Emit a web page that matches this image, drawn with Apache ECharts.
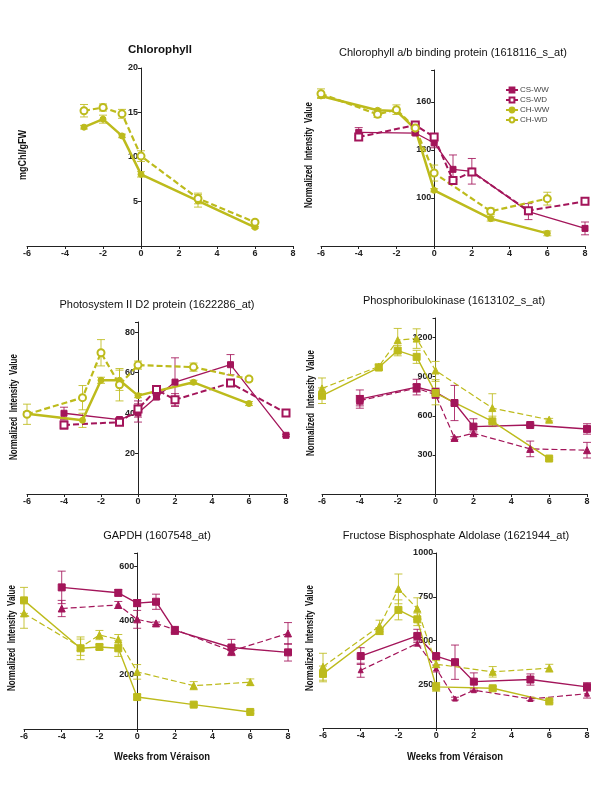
<!DOCTYPE html>
<html><head><meta charset="utf-8">
<script src="https://cdn.jsdelivr.net/npm/echarts@6/dist/echarts.min.js"></script>
<style>html,body{margin:0;padding:0;background:#fff}#c{width:600px;height:800px}</style>
</head><body><div id="c"></div>
<script>
// ---------- DATA ----------
const seriesNames = ['CS-WW', 'CS-WD', 'CH-WW', 'CH-WD'];
const panelTitles = [
  'Chlorophyll',
  'Chlorophyll a/b binding protein (1618116_s_at)',
  'Photosystem II D2 protein (1622286_at)',
  'Phosphoribulokinase (1613102_s_at)',
  'GAPDH (1607548_at)',
  'Fructose Bisphosphate Aldolase (1621944_at)'
];
const yAxisNames = ['mgChl/gFW', 'Normalized  Intensity  Value', 'Normalized  Intensity  Value',
  'Normalized  Intensity  Value', 'Normalized  Intensity  Value', 'Normalized  Intensity  Value'];
const xAxisName = 'Weeks from Véraison';
const xTickLabels = [-6, -4, -2, 0, 2, 4, 6, 8];
const yTickLabels = [[5, 10, 15, 20], [100, 130, 160], [20, 40, 60, 80], [300, 600, 900, 1200], [200, 400, 600], [250, 500, 750, 1000]];

const weeksChl = [-3, -2, -1, 0, 3, 6];
const weeksCH = [-6, -3, -2, -1, 0, 3, 6];
const weeksCS = [-4, -1, 0, 1, 2, 5, 8];

// Chlorophyll
const chl_CHWW = [13.35, 14.25, 12.37, 8.05, 5.07, 2.1];
const chl_CHWW_err = [0.2, 0.45, 0.2, 0.3, 0.7, 0.1];
const chl_CHWD = [15.2, 15.56, 14.85, 10.1, 5.34, 2.67];
const chl_CHWD_err = [0.7, 0.4, 0.5, 0.6, 0.6, 0.15];

// Chlorophyll a/b binding protein
const cab_CHWW = [163.8, 154.8, 154.4, 143.1, 104.8, 87.1, 77.9];
const cab_CHWW_err = [1, 1, 1, 4, 1, 1.5, 1.5];
const cab_CHWD = [165.2, 152.3, 155.2, 143.8, 115.6, 91.7, 99.6];
const cab_CHWD_err = [3, 2, 3, 3, 5, 2, 4];
const cab_CSWW = [141, 140.6, 134.4, 117.9, 116.7, 91.5, 81];
const cab_CSWW_err = [3, 1, 3, 9, 8, 5, 4];
const cab_CSWD = [138.1, 145.6, 138.1, 111, 116.3, 92.1, 97.9];
const cab_CSWD_err = [1, 1, 2, 2, 2, 1, 2];

// Photosystem II D2 protein
const ps_CHWW = [39.7, 36.4, 56.2, 56.2, 48.6, 55.2, 44.7];
const ps_CHWW_err = [1, 3.5, 1.5, 5, 1, 1, 1];
const ps_CHWD = [39.4, 47.6, 69.8, 54, 63.7, 62.7, 56.8];
const ps_CHWD_err = [5, 6, 6.5, 8, 2, 2, 1];
const ps_CSWW = [39.9, 36.8, 40.05, 47.9, 55.3, 63.9, 29];
const ps_CSWW_err = [3, 1, 4.5, 1, 12, 5, 0.5];
const ps_CSWD = [34.1, 35.5, 42, 51.6, 46.6, 54.8, 40.05];
const ps_CSWD_err = [2, 1, 4, 1.5, 3, 1, 1];

// Phosphoribulokinase
const prk_CHWW = [754, 970, 1100, 1052, 774, 557, 272];
const prk_CHWW_err = [60, 20, 40, 50, 90, 40, 10];
const prk_CHWD = [810, 978, 1180, 1192, 947, 659, 570];
const prk_CHWD_err = [80, 20, 90, 75, 70, 110, 10];
const prk_CSWW = [728, 820, 782, 698, 517, 529, 499];
const prk_CSWW_err = [70, 60, 30, 135, 60, 10, 40];
const prk_CSWD = [716, 812, 761, 430, 466, 346, 336];
const prk_CSWD_err = [40, 30, 20, 10, 10, 60, 60];

// GAPDH
const gap_CHWW = [475, 298, 303, 298, 118, 90, 63];
const gap_CHWW_err = [48, 42, 10, 30, 10, 5, 5];
const gap_CHWD = [427, 302, 347, 331, 211, 160, 173];
const gap_CHWD_err = [55, 30, 17, 18, 27, 15, 12];
const gap_CSWW = [523, 503, 465, 470, 364, 301, 283];
const gap_CSWW_err = [60, 12, 13, 28, 15, 30, 32];
const gap_CSWD = [445, 458, 405, 390, 367, 288, 353];
const gap_CSWD_err = [30, 13, 33, 5, 10, 15, 40];

// Fructose Bisphosphate Aldolase
const fba_CHWW = [309, 554, 675, 621, 235, 227, 152];
const fba_CHWW_err = [45, 20, 57, 36, 25, 10, 8];
const fba_CHWD = [350, 583, 795, 682, 365, 321, 342];
const fba_CHWD_err = [77, 33, 85, 62, 20, 30, 22];
const fba_CSWW = [411, 526, 411, 376, 265, 277, 235];
const fba_CSWW_err = [48, 38, 15, 98, 50, 32, 24];
const fba_CSWD = [330, 483, 340, 168, 216, 166, 196];
const fba_CSWD_err = [40, 15, 20, 8, 8, 10, 25];

// ---------- LAYOUT / STYLE ----------
const CH = '#bdbb1c', CS = '#a3155a';
const FONT = "'Liberation Sans', Arial, sans-serif";
const grids = [
  {left: 27, top: 68, width: 266, height: 178},
  {left: 321, top: 70, width: 264, height: 176},
  {left: 27, top: 322, width: 259, height: 172},
  {left: 322, top: 318, width: 265, height: 176},
  {left: 24, top: 553, width: 264, height: 176},
  {left: 323, top: 553, width: 264, height: 175}
];
const yRanges = [[0, 20, 5], [70, 180, 30], [0, 85, 20], [0, 1350, 300], [0, 650, 200], [0, 1000, 250]];

const xAxes = grids.map((g, i) => ({
  gridIndex: i, type: 'value', min: -6, max: 8, interval: 2,
  axisLine: {onZero: false, lineStyle: {color: '#222', width: 1}},
  axisTick: {length: 3, lineStyle: {color: '#222'}},
  splitLine: {show: false},
  axisLabel: {margin: 3, fontSize: 9, fontWeight: 'bold', color: '#222', fontFamily: FONT,
    formatter: v => xTickLabels.indexOf(v) >= 0 ? String(v) : ''}
}));
const yAxes = grids.map((g, i) => ({
  gridIndex: i, type: 'value', min: yRanges[i][0], max: yRanges[i][1], interval: yRanges[i][2],
  position: 'left', offset: -(g.width * 6 / 14),
  axisLine: {show: true, onZero: false, lineStyle: {color: '#222', width: 1}},
  axisTick: {show: true, length: 3, lineStyle: {color: '#222'}},
  splitLine: {show: false},
  axisLabel: {margin: 3, fontSize: 9, fontWeight: 'bold', color: '#222', fontFamily: FONT,
    formatter: v => yTickLabels[i].indexOf(v) >= 0 ? String(v) : ''}
}));

function lineS(idx, name, xs, ys, o) {
  return {
    type: 'line', name: name, xAxisIndex: idx, yAxisIndex: idx,
    data: xs.map((x, k) => [x, ys[k]]),
    symbol: o.symbol, symbolSize: o.size || 6,
    lineStyle: {color: o.color, width: o.width, type: o.dash ? [6, 3] : 'solid'},
    itemStyle: {color: o.color, borderColor: o.color, borderWidth: o.bw || 1},
    emphasis: {disabled: true}, z: 3
  };
}
function errS(idx, xs, ys, es, color) {
  return {
    type: 'custom', name: 'err', xAxisIndex: idx, yAxisIndex: idx, z: 2,
    data: xs.map((x, k) => [x, ys[k] - es[k], ys[k] + es[k]]),
    renderItem: function (params, api) {
      const lo = api.coord([api.value(0), api.value(1)]);
      const hi = api.coord([api.value(0), api.value(2)]);
      const st = {stroke: color, lineWidth: 1, opacity: 0.85};
      return {type: 'group', children: [
        {type: 'line', shape: {x1: lo[0], y1: lo[1], x2: hi[0], y2: hi[1]}, style: st},
        {type: 'line', shape: {x1: lo[0] - 4, y1: lo[1], x2: lo[0] + 4, y2: lo[1]}, style: st},
        {type: 'line', shape: {x1: hi[0] - 4, y1: hi[1], x2: hi[0] + 4, y2: hi[1]}, style: st}
      ]};
    }
  };
}

const series = [];
function addPanel(idx, xsCH, xsCS, d, kind) {
  let sty;
  if (kind === 'circle') {
    sty = {
      'CS-WW': {symbol: 'rect', size: 6, color: CS, width: 1.3},
      'CS-WD': {symbol: 'emptyRect', size: 7, color: CS, width: 2, dash: true, bw: 1.2},
      'CH-WW': {symbol: 'circle', size: 6, color: CH, width: 2.5},
      'CH-WD': {symbol: 'emptyCircle', size: 7, color: CH, width: 2.2, dash: true, bw: 1.2}
    };
  } else {
    sty = {
      'CS-WW': {symbol: 'rect', size: 7, color: CS, width: 1.4},
      'CS-WD': {symbol: 'triangle', size: kind === 'small' ? 5 : 7, color: CS, width: 1.2, dash: true},
      'CH-WW': {symbol: 'rect', size: 7, color: CH, width: 1.4},
      'CH-WD': {symbol: 'triangle', size: 7, color: CH, width: 1.2, dash: true}
    };
  }
  const keys = {'CS-WW': 'CSWW', 'CS-WD': 'CSWD', 'CH-WW': 'CHWW', 'CH-WD': 'CHWD'};
  seriesNames.forEach(n => {
    const k = keys[n];
    if (!d[k]) return;
    const xs = n.startsWith('CH') ? xsCH : xsCS;
    series.push(errS(idx, xs, d[k], d[k + '_err'], sty[n].color));
    series.push(lineS(idx, n, xs, d[k], sty[n]));
  });
}
addPanel(1, weeksCH, weeksCS, {CHWW: cab_CHWW, CHWW_err: cab_CHWW_err, CHWD: cab_CHWD, CHWD_err: cab_CHWD_err,
  CSWW: cab_CSWW, CSWW_err: cab_CSWW_err, CSWD: cab_CSWD, CSWD_err: cab_CSWD_err}, 'circle');
addPanel(0, weeksChl, weeksCS, {CHWW: chl_CHWW, CHWW_err: chl_CHWW_err, CHWD: chl_CHWD, CHWD_err: chl_CHWD_err}, 'circle');
addPanel(2, weeksCH, weeksCS, {CHWW: ps_CHWW, CHWW_err: ps_CHWW_err, CHWD: ps_CHWD, CHWD_err: ps_CHWD_err,
  CSWW: ps_CSWW, CSWW_err: ps_CSWW_err, CSWD: ps_CSWD, CSWD_err: ps_CSWD_err}, 'circle');
addPanel(3, weeksCH, weeksCS, {CHWW: prk_CHWW, CHWW_err: prk_CHWW_err, CHWD: prk_CHWD, CHWD_err: prk_CHWD_err,
  CSWW: prk_CSWW, CSWW_err: prk_CSWW_err, CSWD: prk_CSWD, CSWD_err: prk_CSWD_err}, 'tri');
addPanel(4, weeksCH, weeksCS, {CHWW: gap_CHWW, CHWW_err: gap_CHWW_err, CHWD: gap_CHWD, CHWD_err: gap_CHWD_err,
  CSWW: gap_CSWW, CSWW_err: gap_CSWW_err, CSWD: gap_CSWD, CSWD_err: gap_CSWD_err}, 'tri');
addPanel(5, weeksCH, weeksCS, {CHWW: fba_CHWW, CHWW_err: fba_CHWW_err, CHWD: fba_CHWD, CHWD_err: fba_CHWD_err,
  CSWW: fba_CSWW, CSWW_err: fba_CSWW_err, CSWD: fba_CSWD, CSWD_err: fba_CSWD_err}, 'small');

// text positions
const titlePos = [[160, 50], [453, 53], [157, 305], [454, 301], [157, 536], [456, 536]];
const yNamePos = [[23, 155], [309, 155], [14, 407], [311, 403], [12, 638], [310, 638]];
const xNamePos = [[162, 757], [455, 757]];
const graphic = [];
panelTitles.forEach((t, i) => graphic.push({
  type: 'text', x: titlePos[i][0], y: titlePos[i][1],
  style: {text: t, fill: '#111', font: (i === 0 ? 'bold 11.5px ' : 'normal 11px ') + FONT, align: 'center', verticalAlign: 'middle'}
}));
yAxisNames.forEach((t, i) => graphic.push({
  type: 'text', x: yNamePos[i][0], y: yNamePos[i][1], rotation: Math.PI / 2, scaleX: (i === 0 ? 0.9 : 0.8),
  style: {text: t, fill: '#111', font: 'bold 10px ' + FONT, align: 'center', verticalAlign: 'middle'}
}));
xNamePos.forEach(p => graphic.push({
  type: 'text', x: p[0], y: p[1], scaleX: 0.86,
  style: {text: xAxisName, fill: '#111', font: 'bold 11px ' + FONT, align: 'center', verticalAlign: 'middle'}
}));

const chart = echarts.init(document.getElementById('c'), null, {renderer: 'canvas'});
chart.setOption({
  animation: false,
  backgroundColor: '#fff',
  grid: grids,
  xAxis: xAxes,
  yAxis: yAxes,
  legend: {
    data: seriesNames, orient: 'vertical', left: 500, top: 81,
    itemWidth: 12, itemHeight: 6, itemGap: 2,
    textStyle: {fontSize: 8, color: '#444', fontFamily: FONT, padding: [0, 0, 0, -3]},
    selectedMode: false
  },
  series: series,
  graphic: graphic
});
</script>
</body></html>
